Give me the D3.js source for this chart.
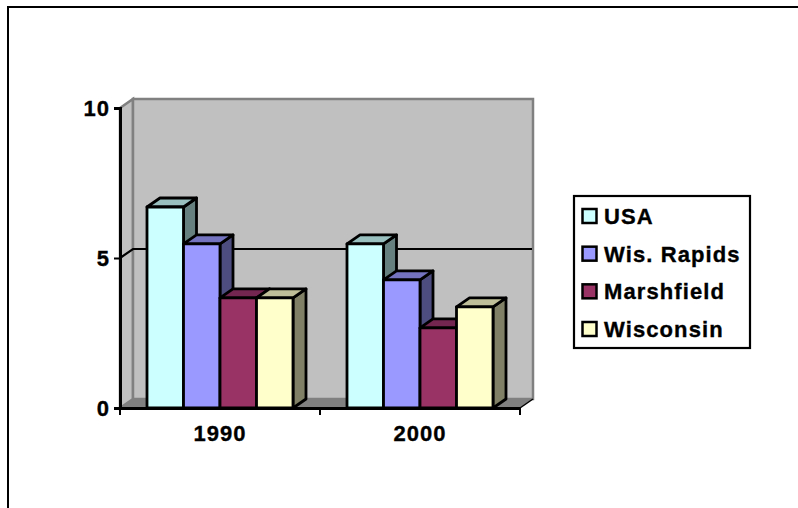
<!DOCTYPE html>
<html>
<head>
<meta charset="utf-8">
<script src="https://cdn.jsdelivr.net/npm/d3@7"></script>
<style>
    html, body { margin: 0; padding: 0; background: #fff; overflow: hidden; }
    svg { display: block; }
    text { font-family: "Liberation Sans", Arial, sans-serif; font-weight: bold; fill: #000; stroke: #000; stroke-width: 0.35px; }
</style>
</head>
<body>
<div id="chart"></div>
<script>
const years = ["1990", "2000"];
const seriesNames = ["USA", "Wis. Rapids", "Marshfield", "Wisconsin"];
const usa = [6.7, 5.47];
const wisRapids = [5.47, 4.27];
const marshfield = [3.67, 2.67];
const wisconsin = [3.67, 3.37];
const yTicks = [0, 5, 10];

const allValues = [usa, wisRapids, marshfield, wisconsin];
const frontColors = ["#CCFFFF", "#9999FF", "#993366", "#FFFFCC"];
const topColors = ["#99BFBF", "#7373BF", "#732650", "#BFBF99"];
const sideColors = ["#668080", "#4D4D80", "#4D1A33", "#808066"];

const width = 798, height = 508;
const margin = {top: 108, left: 120};
const plotW = 400, plotH = 300;
const depthX = 13, depthY = 9;

const svg = d3.select("#chart").append("svg")
    .attr("width", width)
    .attr("height", height);

// outer chart frame, right and bottom run off the page
svg.append("path")
    .attr("d", "M8,508V7H798")
    .attr("fill", "none")
    .attr("stroke", "#000")
    .attr("stroke-width", 2);

const g = svg.append("g")
    .attr("transform", "translate(" + margin.left + "," + margin.top + ")");

const x = d3.scaleBand().domain(years).range([0, plotW]);
const x1 = d3.scaleBand().domain(seriesNames)
    .range([27, x.bandwidth() - 27]);
const y = d3.scaleLinear().domain([0, 10]).range([plotH, 0]);

// walls and floor
const wallGrey = "#C0C0C0", edgeGrey = "#808080";
g.append("path")
    .attr("d", `M0,0L${depthX},${-depthY}V${plotH - depthY}L0,${plotH}Z`)
    .attr("fill", wallGrey).attr("stroke", edgeGrey).attr("stroke-width", 2.5);
g.append("rect")
    .attr("x", depthX).attr("y", -depthY)
    .attr("width", plotW).attr("height", plotH)
    .attr("fill", wallGrey).attr("stroke", edgeGrey).attr("stroke-width", 2.5);
g.append("path")
    .attr("d", `M0,${plotH}L${depthX},${plotH - depthY}H${plotW + depthX}L${plotW},${plotH}Z`)
    .attr("fill", edgeGrey);

// gridlines (0 and 10 are the floor and the wall edge)
yTicks.filter(t => t > 0 && t < 10).forEach(t => {
    g.append("path")
        .attr("d", `M0,${y(t)}L${depthX},${y(t) - depthY}H${plotW + depthX - 1}`)
        .attr("fill", "none")
        .attr("stroke", "#000")
        .attr("stroke-width", 2.2);
});

// bars
years.forEach((year, i) => {
    seriesNames.forEach((name, s) => {
        const v = allValues[s][i];
        const bx = x(year) + x1(name);
        const bw = x1.bandwidth();
        const by = y(v);
        const bar = g.append("g")
            .attr("stroke", "#000")
            .attr("stroke-width", 2.8)
            .attr("stroke-linejoin", "round");
        bar.append("path")
            .attr("d", `M${bx + bw},${by}l${depthX},${-depthY}V${plotH - depthY}L${bx + bw},${plotH}Z`)
            .attr("fill", sideColors[s]);
        bar.append("path")
            .attr("d", `M${bx},${by}l${depthX},${-depthY}h${bw}l${-depthX},${depthY}Z`)
            .attr("fill", topColors[s]);
        bar.append("rect")
            .attr("x", bx).attr("y", by)
            .attr("width", bw).attr("height", plotH - by)
            .attr("fill", frontColors[s]);
    });
});

// axes
const yAxis = d3.axisLeft(y).tickValues(yTicks).tickFormat(d3.format("d"))
    .tickSize(6).tickPadding(4);
const yG = g.append("g").call(yAxis);
const xAxis = d3.axisBottom(x).tickSize(0).tickPadding(17);
const xG = g.append("g").attr("transform", "translate(0," + plotH + ")").call(xAxis);

// category ticks sit between the groups
xG.selectAll(".boundary")
    .data(d3.range(years.length + 1))
    .enter().append("line")
    .attr("class", "boundary")
    .attr("x1", d => d * x.step()).attr("x2", d => d * x.step())
    .attr("y1", 0).attr("y2", 7)
    .attr("stroke", "#000").attr("stroke-width", 2);

// small diagonal at the right end of the floor
xG.append("line")
    .attr("x1", plotW).attr("y1", 0)
    .attr("x2", plotW + depthX).attr("y2", -depthY)
    .attr("stroke", "#000").attr("stroke-width", 1.5);

[yG, xG].forEach(a => {
    a.select(".domain").attr("stroke", "#000").attr("stroke-width", 3);
    a.selectAll(".tick line").attr("stroke", "#000").attr("stroke-width", 2);
    a.selectAll("text")
        .style("font-size", "22px")
        .style("letter-spacing", "1px")
        .style("font-family", "Liberation Sans")
        .style("font-weight", "bold");
});

// legend
const legend = svg.append("g").attr("transform", "translate(574,196)");
legend.append("rect")
    .attr("width", 176).attr("height", 152)
    .attr("fill", "#fff").attr("stroke", "#000").attr("stroke-width", 2.2);
const rowY = d3.scalePoint().domain(seriesNames).range([20, 133]);
const row = legend.selectAll(".row").data(seriesNames).enter().append("g")
    .attr("transform", d => "translate(0," + rowY(d) + ")");
row.append("rect")
    .attr("x", 8.5).attr("y", -7)
    .attr("width", 14).attr("height", 14)
    .attr("fill", (d, i) => frontColors[i])
    .attr("stroke", "#000").attr("stroke-width", 2.5);
row.append("text")
    .attr("x", 30).attr("y", 8)
    .style("font-size", "22px")
    .style("letter-spacing", "1.1px")
    .text(d => d);
</script>
</body>
</html>
